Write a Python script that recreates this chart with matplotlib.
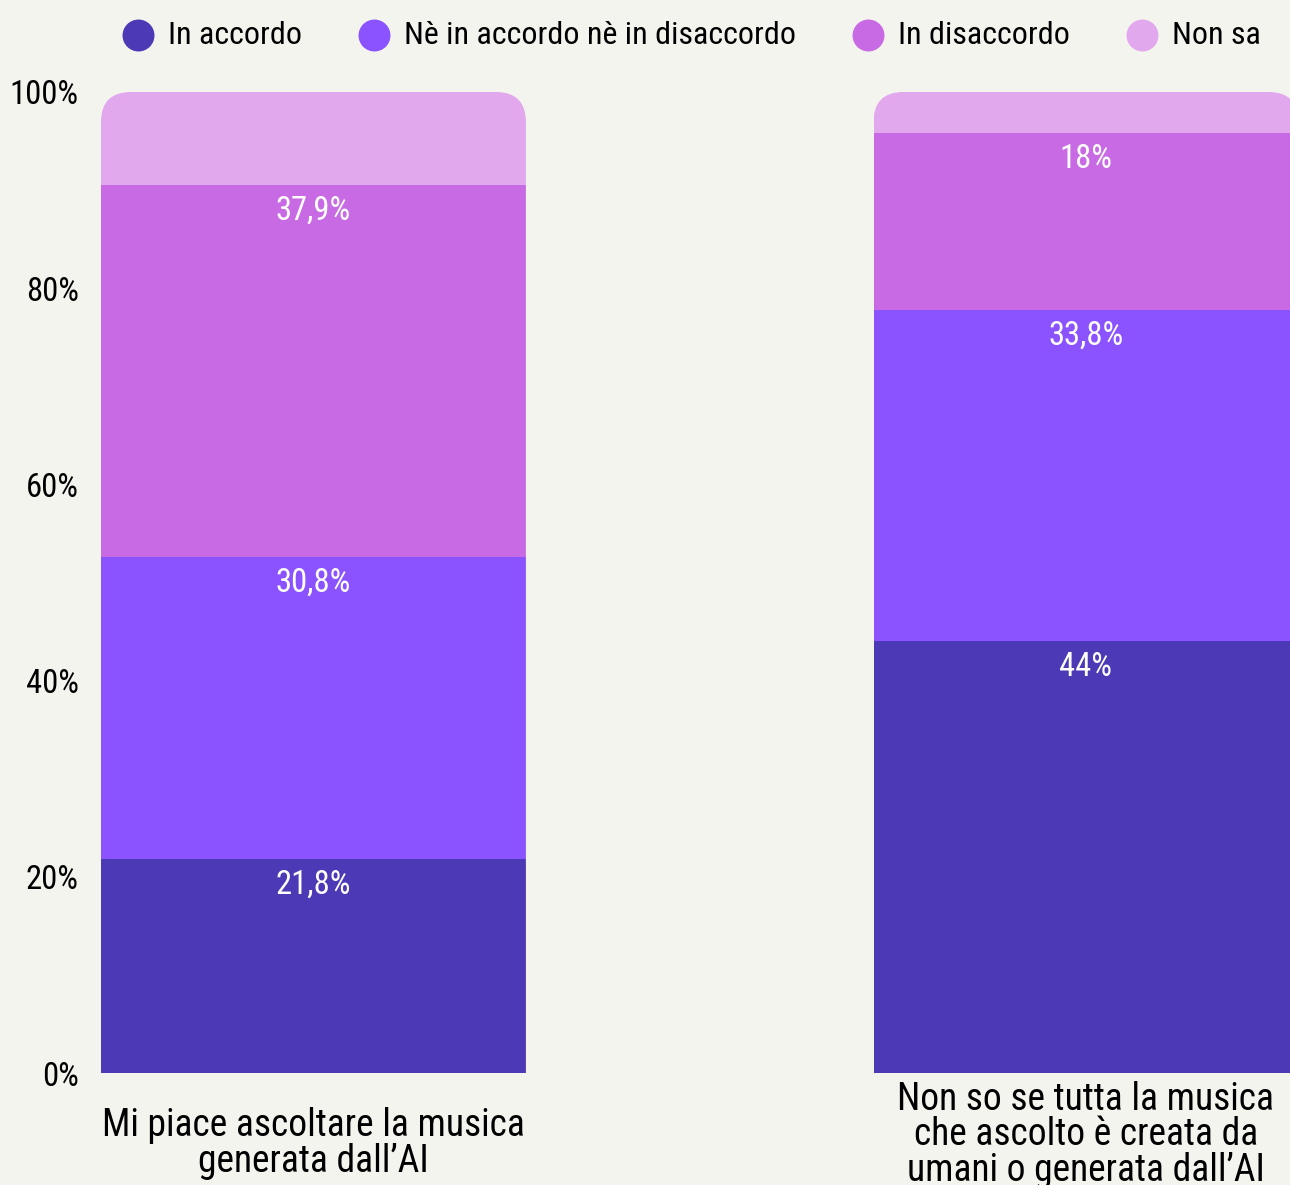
import matplotlib
matplotlib.use("Agg")
import matplotlib.pyplot as plt
from matplotlib import font_manager
from matplotlib.patches import FancyBboxPatch
from matplotlib.lines import Line2D

# survey answers, share of respondents (%)
categories = ["Mi piace ascoltare la musica\ngenerata dall\u2019AI",
              "Non so se tutta la musica\nche ascolto \u00e8 creata da\numani o generata dall\u2019AI"]
series_names = ["In accordo", "N\u00e8 in accordo n\u00e8 in disaccordo", "In disaccordo", "Non sa"]
in_accordo = [21.8, 44.0]
neutrale = [30.8, 33.8]
in_disaccordo = [37.9, 18.0]
non_sa = [9.5, 4.2]
value_labels = [["21,8%", "44%"], ["30,8%", "33,8%"], ["37,9%", "18%"], [None, None]]
y_ticks = [0, 20, 40, 60, 80, 100]

colors = ["#4B39B5", "#8B52FF", "#C86AE4", "#E1A8EE"]
bg = "#F4F4EF"

names = {f.name for f in font_manager.fontManager.ttflist}
family = "Roboto Condensed" if "Roboto Condensed" in names else "Roboto"
plt.rcParams["font.family"] = [family, "DejaVu Sans"]
stretch = "normal" if family == "Roboto Condensed" else "condensed"

W, H = 1290, 1185
fig = plt.figure(figsize=(W / 100, H / 100), dpi=100, facecolor=bg)
ax = fig.add_axes([101 / W, (H - 1073) / H, (1290 - 101) / W, (1073 - 92) / H])
ax.set_facecolor(bg)

width = 0.55
x = [0, 1]
ax.set_xlim(-width / 2, (1290 - 313.5) / 772.5)
ax.set_ylim(0, 100)

series = [in_accordo, neutrale, in_disaccordo, non_sa]
bottoms = [0.0, 0.0]
for vals, col, labs in zip(series, colors, value_labels):
    bars = ax.bar(x, vals, width, bottom=bottoms, color=col, linewidth=0, clip_on=True)
    for i, (b, v) in enumerate(zip(bars, vals)):
        top = bottoms[i] + v
        # rounded top corners on each stacked column
        r_x = 30 / 772.5
        r_y = 30 / 9.81
        clip = FancyBboxPatch((x[i] - width / 2, -20), width, 120,
                              boxstyle=f"round,pad=0,rounding_size={r_x}",
                              mutation_aspect=r_y / r_x,
                              transform=ax.transData, facecolor="none", edgecolor="none")
        b.set_clip_path(clip)
        if labs[i]:
            ax.annotate(labs[i], (x[i], top), xytext=(0, -7), textcoords="offset points",
                        ha="center", va="top", color="white", fontsize=23.5, fontstretch=stretch)
    bottoms = [bo + v for bo, v in zip(bottoms, vals)]

for s in ax.spines.values():
    s.set_visible(False)
ax.set_yticks(y_ticks)
ax.set_yticklabels([f"{t}%" for t in y_ticks], fontsize=23.5, fontstretch=stretch)
ax.tick_params(axis="y", length=0, pad=16)
ax.set_xticks([])

label_y = [-7.2, -6.3]
for xi, cat, ly in zip(x, categories, label_y):
    ax.text(xi, ly, cat, ha="center", va="center", fontsize=27, linespacing=0.95,
            fontstretch=stretch, clip_on=False)

# legend row: circle + text, laid out left to right
renderer = fig.canvas.get_renderer()
cursor = 122
ly_fig = (H - 35) / H
for name, col in zip(series_names, colors):
    fig.add_artist(Line2D([(cursor + 16) / W], [ly_fig], marker="o", markersize=23,
                          markerfacecolor=col, markeredgewidth=0, linestyle="none",
                          transform=fig.transFigure))
    t = fig.text((cursor + 46) / W, ly_fig, name, ha="left", va="center",
                 fontsize=23, fontstretch=stretch)
    tw = t.get_window_extent(renderer).width
    cursor = cursor + 46 + tw + 56

fig.savefig("out.png", dpi=100, facecolor=bg)
